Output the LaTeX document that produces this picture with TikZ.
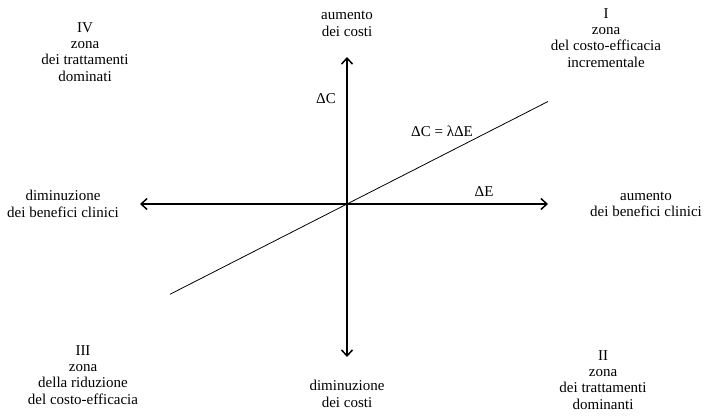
\documentclass[tikz,border=0pt]{standalone}
\usepackage{fontspec}
\setmainfont{Liberation Serif}
\usepackage{tikz}
\usetikzlibrary{arrows.meta,positioning,calc}

\tikzset{
  axis/.style={line width=1.5pt,-{Straight Barb[length=6pt,width=11pt,line width=1.5pt]}},
  zone/.style={align=center,inner sep=1pt,font=\fontsize{15}{16.3}\selectfont},
  lbl/.style={inner sep=1pt,font=\fontsize{15}{16.3}\selectfont},
}

\begin{document}
\begin{tikzpicture}[x=1pt,y=-1pt]
\useasboundingbox (0,0) rectangle (708,415);
\pgfmathsetmacro{\ox}{347}
\pgfmathsetmacro{\oy}{204}
\pgfmathsetmacro{\sl}{0.51}

\coordinate (o) at (\ox,\oy);
\coordinate (top) at (\ox,57);
\coordinate (bot) at (\ox,357);
\coordinate (lft) at (140,\oy);
\coordinate (rgt) at (548,\oy);
\coordinate (d1) at (170,{\oy+\sl*(\ox-170)});
\coordinate (d2) at (548,{\oy-\sl*(548-\ox)});

% axes
\draw[axis] (o) -- (top);
\draw[axis] (o) -- (bot);
\draw[axis] (o) -- (lft);
\draw[axis] (o) -- (rgt);
\draw[line width=0.8pt] (d1) -- (d2);

% axis labels
\node[zone] (up) at (\ox,24) {aumento\\dei costi};
\node[zone] (down) at (\ox,394) {diminuzione\\dei costi};
\node[zone] (left) at (63,204) {diminuzione\\dei benefici clinici};
\node[zone] (right) at (646,204) {aumento\\dei benefici clinici};

\node[lbl] (dC) at (326,99) {ΔC};
\node[lbl] (dE) at (484,192) {ΔE};
\node[lbl] (lam) at (442,131) {ΔC = λΔE};

% zones
\node[zone] (zI) at (606,38) {I\\zona\\del costo-efficacia\\incrementale};
\node[zone] (zII) at (603,380) {II\\zona\\dei trattamenti\\dominanti};
\node[zone] (zIII) at (83,375) {III\\zona\\della riduzione\\del costo-efficacia};
\node[zone] (zIV) at (85,52) {IV\\zona\\dei trattamenti\\dominati};
\end{tikzpicture}
\end{document}
